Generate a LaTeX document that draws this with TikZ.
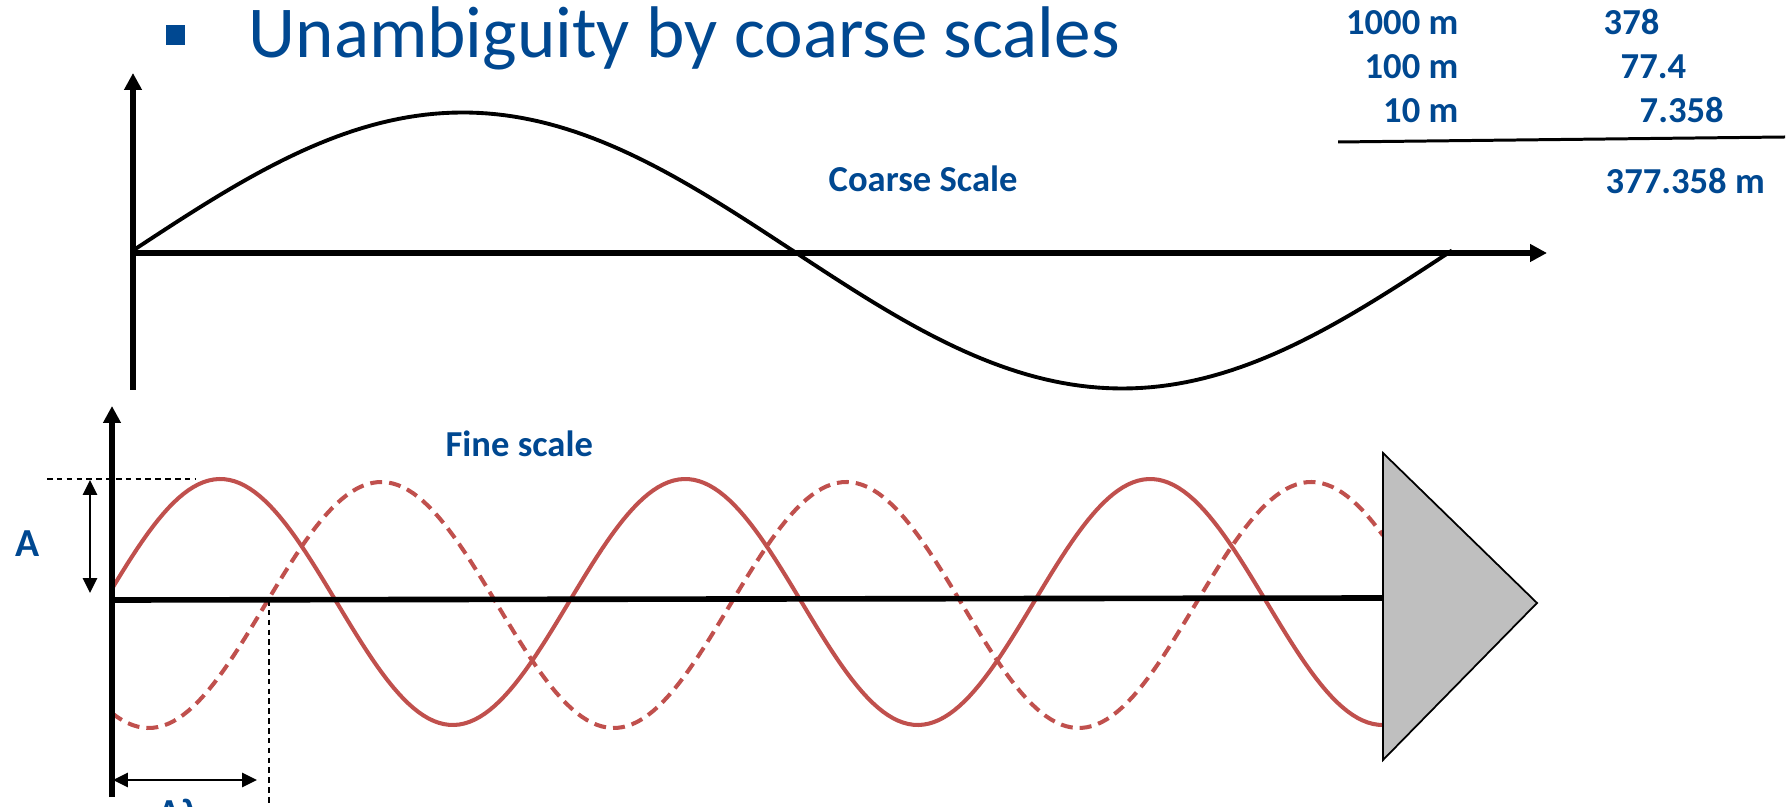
\documentclass[tikz,border=0pt]{standalone}
\usepackage{fontspec}
\setmainfont{Carlito}
\usetikzlibrary{arrows.meta}
\definecolor{titleblue}{RGB}{0,72,145}
\definecolor{wavered}{RGB}{192,80,77}

\begin{document}
\begin{tikzpicture}[
  x=0.01cm, y=-0.01cm,
  axis/.style={line width=1.45pt, -{Triangle[length=4.8pt, width=4.8pt]}},
  coarsewave/.style={line width=1.1pt},
  wave/.style={draw=wavered, line width=1.15pt},
  shiftwave/.style={wave, dash pattern=on 3.4pt off 2pt},
  guide/.style={line width=0.5pt, dash pattern=on 1.6pt off 1.2pt},
  dimarrow/.style={line width=0.6pt, {Triangle[length=4.2pt, width=4pt]}-{Triangle[length=4.2pt, width=4pt]}},
  bluetxt/.style={text=titleblue, font=\fontsize{10.4}{12.5}\selectfont\bfseries, inner sep=0pt},
]
\useasboundingbox (0,0) rectangle (1791,807);

% Title
\node[fill=titleblue, minimum width=0.19cm, minimum height=0.2cm, inner sep=0pt] (bullet) at (175.5,35.5) {};
\node[anchor=base west, inner sep=0pt, text=titleblue, font=\fontsize{20.8}{24}\selectfont] (title) at (248,58) {Unambiguity by coarse scales};

% Sum of the scales
\node[bluetxt, anchor=base east] (r1) at (1459,35) {1000 m};
\node[bluetxt, anchor=base east] (r2) at (1459,79) {100 m};
\node[bluetxt, anchor=base east] (r3) at (1459,123) {10 m};
\node[bluetxt, anchor=base west] (v1) at (1603,35) {378};
\node[bluetxt, anchor=base west] (v2) at (1620,79) {77.4};
\node[bluetxt, anchor=base west] (v3) at (1639,123) {7.358};
\coordinate (sumL) at (1338,142);
\coordinate (sumR) at (1785,137);
\draw[line width=0.85pt] (sumL) -- (sumR);
\node[bluetxt, anchor=base west] (total) at (1605,194) {377.358 m};

% Coarse scale
\coordinate (corigin) at (133,253);
\coordinate (cbottom) at (133,390);
\coordinate (ctop) at (133,73);
\coordinate (cright) at (1547,253);
\draw[coarsewave] plot[domain=133:1452, samples=150] (\x, {250.5-138*sin(0.272934*(\x-133))});
\draw[axis] (cbottom) -- (ctop);
\draw[axis] (corigin) -- (cright);
\node[bluetxt, anchor=base west] (coarse) at (828,192) {Coarse Scale};

% Fine scale
\coordinate (forigin) at (112,600);
\coordinate (fbottom) at (112,797);
\coordinate (ftop) at (112,406);
\coordinate (fend) at (1383,598);
\draw[wave] plot[domain=112:1383, samples=250] (\x, {602-123*sin(0.774194*(\x-104))});
\draw[shiftwave] plot[domain=112:1383, samples=250] (\x, {605-123*sin(0.774194*(\x-265))});
\draw[axis, line width=1.7pt] (fbottom) -- (ftop);
\draw[line width=1.6pt] (forigin) -- (fend);
\node[bluetxt, anchor=base west] (fine) at (445,457) {Fine scale};

% Amplitude
\coordinate (peakL) at (47,479);
\coordinate (peakR) at (195,479);
\coordinate (ampT) at (90,480);
\coordinate (ampB) at (90,593);
\draw[guide] (peakL) -- (peakR);
\draw[dimarrow] (ampT) -- (ampB);
\node[bluetxt, anchor=base west, font=\fontsize{11.3}{13}\selectfont\bfseries] (amp) at (15,557) {A};

% Shift
\coordinate (zeroT) at (269,600);
\coordinate (zeroB) at (269,807);
\coordinate (shiftL) at (113,780);
\coordinate (shiftR) at (257,780);
\draw[guide] (zeroT) -- (zeroB);
\draw[dimarrow] (shiftL) -- (shiftR);
\node[bluetxt, anchor=base west, font=\fontsize{11.3}{13}\selectfont\bfseries] (dlambda) at (158,826) {Δλ};

% Receiver
\draw[fill=black!25, line width=0.5pt] (1383,453) coordinate (recT) -- (1537,603) coordinate (recTip) -- (1383,760) coordinate (recB) -- cycle;

\end{tikzpicture}
\end{document}
